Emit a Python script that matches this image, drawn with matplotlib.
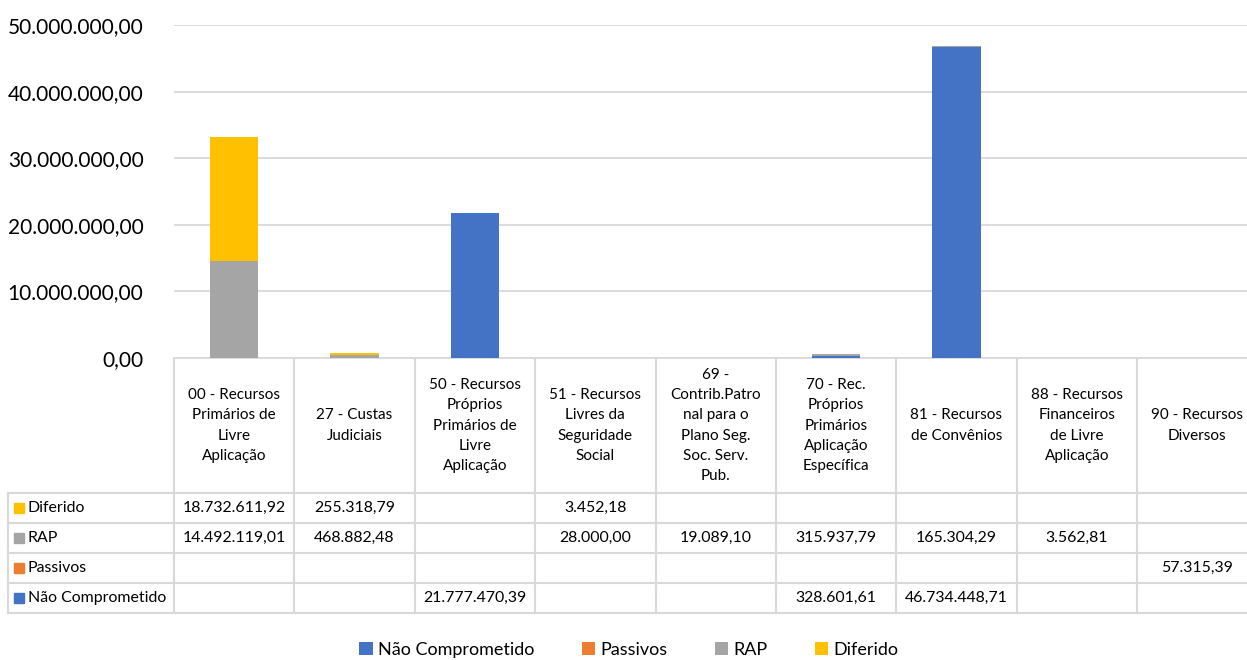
import numpy as np
import matplotlib
matplotlib.use('Agg')
import matplotlib.pyplot as plt
from matplotlib.patches import Rectangle

plt.rcParams['font.family'] = ['Lato', 'DejaVu Sans']

# Data
categories = ['00 - Recursos\nPrimários de\nLivre\nAplicação',
              '27 - Custas\nJudiciais',
              '50 - Recursos\nPróprios\nPrimários de\nLivre\nAplicação',
              '51 - Recursos\nLivres da\nSeguridade\nSocial',
              '69 -\nContrib.Patro\nnal para o\nPlano Seg.\nSoc. Serv.\nPub.',
              '70 - Rec.\nPróprios\nPrimários\nAplicação\nEspecífica',
              '81 - Recursos\nde Convênios',
              '88 - Recursos\nFinanceiros\nde Livre\nAplicação',
              '90 - Recursos\nDiversos']

nao_comprometido = [None, None, 21777470.39, None, None, 328601.61, 46734448.71, None, None]
passivos = [None, None, None, None, None, None, None, None, 57315.39]
rap = [14492119.01, 468882.48, None, 28000.00, 19089.10, 315937.79, 165304.29, 3562.81, None]
diferido = [18732611.92, 255318.79, None, 3452.18, None, None, None, None, None]

yticks = [0, 10000000, 20000000, 30000000, 40000000, 50000000]

series = [('Não Comprometido', nao_comprometido, '#4472C4'),
          ('Passivos', passivos, '#ED7D31'),
          ('RAP', rap, '#A5A5A5'),
          ('Diferido', diferido, '#FFC000')]
# table rows are listed top-down in reverse order
table_rows = series[::-1]


def br(v):
    s = f'{v:,.2f}'
    return s.replace(',', 'X').replace('.', ',').replace('X', '.')


W, H = 1247, 660
fig = plt.figure(figsize=(W / 100, H / 100), dpi=100)

colw = (1137 - 174) / 8
xmax = -0.5 + (W - 174) / colw
ax = fig.add_axes([174 / W, 1 - 358 / H, 1 - 174 / W, (358 - 25) / H])
x = np.arange(len(categories))
bottom = np.zeros(len(categories))
for name, vals, color in series:
    v = np.array([0 if a is None else a for a in vals], dtype=float)
    ax.bar(x, v, 0.4, bottom=bottom, color=color, label=name, zorder=3)
    bottom += v

ax.set_xlim(-0.5, xmax)
ax.set_ylim(0, 50000000)
ax.set_yticks(yticks)
ax.set_yticklabels([br(t) for t in yticks], fontsize=15)
ax.tick_params(axis='y', length=0, pad=22)
ax.set_xticks([])
ax.grid(axis='y', color='#D9D9D9', lw=1.3, zorder=0)
for s in ['top', 'right', 'left']:
    ax.spines[s].set_visible(False)
ax.spines['bottom'].set_color('#D9D9D9')
ax.spines['bottom'].set_linewidth(1.3)

# data table below the plot, y in pixels from the top
tab = fig.add_axes([174 / W, 0, 1 - 174 / W, 1 - 358 / H])
tab.set_xlim(-0.5, xmax)
tab.set_ylim(H, 358)
tab.axis('off')
gc = '#D9D9D9'
xleft = -0.5 - (174 - 8) / colw
row_top = 493
row_h = 30
n_rows = len(table_rows)
for i in range(len(categories)):
    tab.plot([i - 0.5, i - 0.5], [358, row_top + n_rows * row_h], color=gc, lw=1.5, clip_on=False)
    tab.text(i, (358 + row_top) / 2, categories[i], ha='center', va='center',
             fontsize=11, linespacing=1.55)
tab.plot([xleft, xleft], [row_top, row_top + n_rows * row_h], color=gc, lw=1.5, clip_on=False)
for r in range(n_rows + 1):
    tab.plot([xleft, xmax], [row_top + r * row_h] * 2, color=gc, lw=1.5, clip_on=False)
for r, (name, vals, color) in enumerate(table_rows):
    yc = row_top + r * row_h + row_h / 2
    tab.add_patch(Rectangle((xleft + 6 / colw, yc - 5), 10 / colw, 10, color=color, clip_on=False))
    tab.text(xleft + 20 / colw, yc, name, ha='left', va='center', fontsize=11.4)
    for i, v in enumerate(vals):
        if v is not None:
            tab.text(i, yc, br(v), ha='center', va='center', fontsize=11.4)

handles, labels = ax.get_legend_handles_labels()
fig.legend(handles, labels, loc='center', bbox_to_anchor=(629 / W, 1 - 650 / H), ncol=4,
           frameon=False, fontsize=13, handlelength=0.75, handleheight=0.75,
           handletextpad=0.3, columnspacing=2.6)

fig.savefig('out.png', dpi=100)
